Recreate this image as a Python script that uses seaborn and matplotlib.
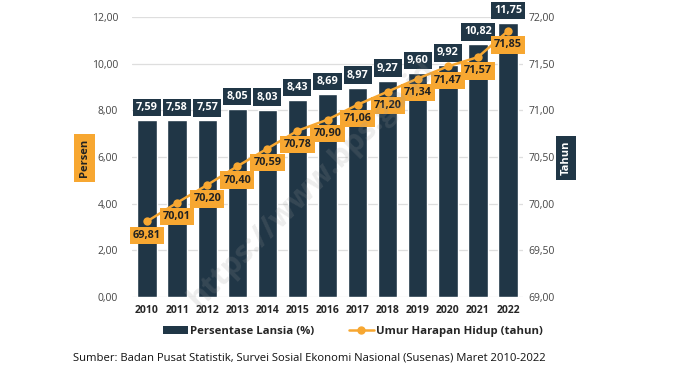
import numpy as np
import pandas as pd
import matplotlib
matplotlib.use("Agg")
import matplotlib.pyplot as plt
from matplotlib.ticker import FuncFormatter, MultipleLocator
from matplotlib.lines import Line2D
from matplotlib.patches import Patch
import seaborn as sns

# data
years = [str(y) for y in range(2010, 2023)]
lansia = [7.59, 7.58, 7.57, 8.05, 8.03, 8.43, 8.69, 8.97, 9.27, 9.60, 9.92, 10.82, 11.75]
uhh = [69.81, 70.01, 70.20, 70.40, 70.59, 70.78, 70.90, 71.06, 71.20, 71.34, 71.47, 71.57, 71.85]

bar_col = "#203646"
line_col = "#F7A731"

sns.set_theme(style="white")
plt.rcParams['font.family'] = ['Open Sans', 'DejaVu Sans']

df = pd.DataFrame({"Tahun": years, "Lansia": lansia, "UHH": uhh})

def comma(v, pos=None):
    return f"{v:.2f}".replace(".", ",")

fig = plt.figure(figsize=(6.79, 3.68), dpi=100)
ax = fig.add_axes([0.1944, 0.193, 0.576, 0.761])

sns.barplot(data=df, x="Tahun", y="Lansia", color=bar_col, width=0.64,
            saturation=1, ax=ax, zorder=2)
ax.set_xlim(-0.5, 12.5)
ax.set_ylim(0, 12)
ax.yaxis.set_major_locator(MultipleLocator(2))
ax.yaxis.set_major_formatter(FuncFormatter(comma))
ax.grid(axis="y", color="#dedede", lw=0.9, zorder=0)
ax.set_axisbelow(True)
for s in ax.spines.values():
    s.set_visible(False)
ax.tick_params(axis="y", length=0, labelsize=7.5, labelcolor="#444444", pad=10)
ax.tick_params(axis="x", length=0, labelsize=7.5, pad=6)
for t in ax.get_xticklabels():
    t.set_fontweight("bold")
ax.set_xlabel("")
ax.set_ylabel("")

ax2 = ax.twinx()
sns.lineplot(x=np.arange(len(years)), y=uhh, color=line_col, lw=1.8,
             marker="o", markersize=6, markeredgewidth=0, ax=ax2, zorder=3)
ax2.set_ylim(69, 72)
ax2.yaxis.set_major_locator(MultipleLocator(0.5))
ax2.yaxis.set_major_formatter(FuncFormatter(comma))
ax2.tick_params(axis="y", length=0, labelsize=7.5, labelcolor="#444444", pad=4)
for s in ax2.spines.values():
    s.set_visible(False)

# bar labels
for i, v in enumerate(lansia):
    ax.annotate(comma(v), (i, v), xytext=(0, 9), textcoords="offset points",
                ha="center", va="center", fontsize=7.8, fontweight="bold",
                color="white", zorder=5,
                bbox=dict(boxstyle="square,pad=0.3", fc=bar_col, ec="none"))

# line labels
for i, v in enumerate(uhh):
    ax2.annotate(comma(v), (i, v), xytext=(0, -10), textcoords="offset points",
                 ha="center", va="center", fontsize=7.8, fontweight="bold",
                 color="#222222", zorder=6,
                 bbox=dict(boxstyle="square,pad=0.3", fc=line_col, ec="none"))

# axis titles as boxes
fig.text(0.124, 0.571, "Persen", rotation=90, ha="center", va="center",
         fontsize=8, fontweight="bold", color="#222222",
         bbox=dict(boxstyle="square,pad=0.45", fc=line_col, ec="none"))
fig.text(0.834, 0.571, "Tahun", rotation=90, ha="center", va="center",
         fontsize=8, fontweight="bold", color="white",
         bbox=dict(boxstyle="square,pad=0.4", fc=bar_col, ec="none"))

# watermark
fig.text(0.46, 0.5, "https://www.bps.go.id", rotation=45, ha="center",
         va="center", fontsize=22, color="#999999", alpha=0.18,
         fontweight="bold")

handles = [Patch(fc=bar_col, ec="none"),
           Line2D([], [], color=line_col, lw=1.8, marker="o", markersize=5)]
fig.legend(handles, ["Persentase Lansia (%)", "Umur Harapan Hidup (tahun)"],
           loc="center", bbox_to_anchor=(0.52, 0.10), ncol=2, frameon=False,
           prop=dict(size=8.2, weight="bold"), handlelength=2.2,
           handletextpad=0.2, columnspacing=3)

fig.text(0.108, 0.027, "Sumber: Badan Pusat Statistik, Survei Sosial Ekonomi Nasional (Susenas) Maret 2010-2022",
         fontsize=8.1, color="#111111", ha="left", va="center")

fig.savefig("out.png", dpi=100)
